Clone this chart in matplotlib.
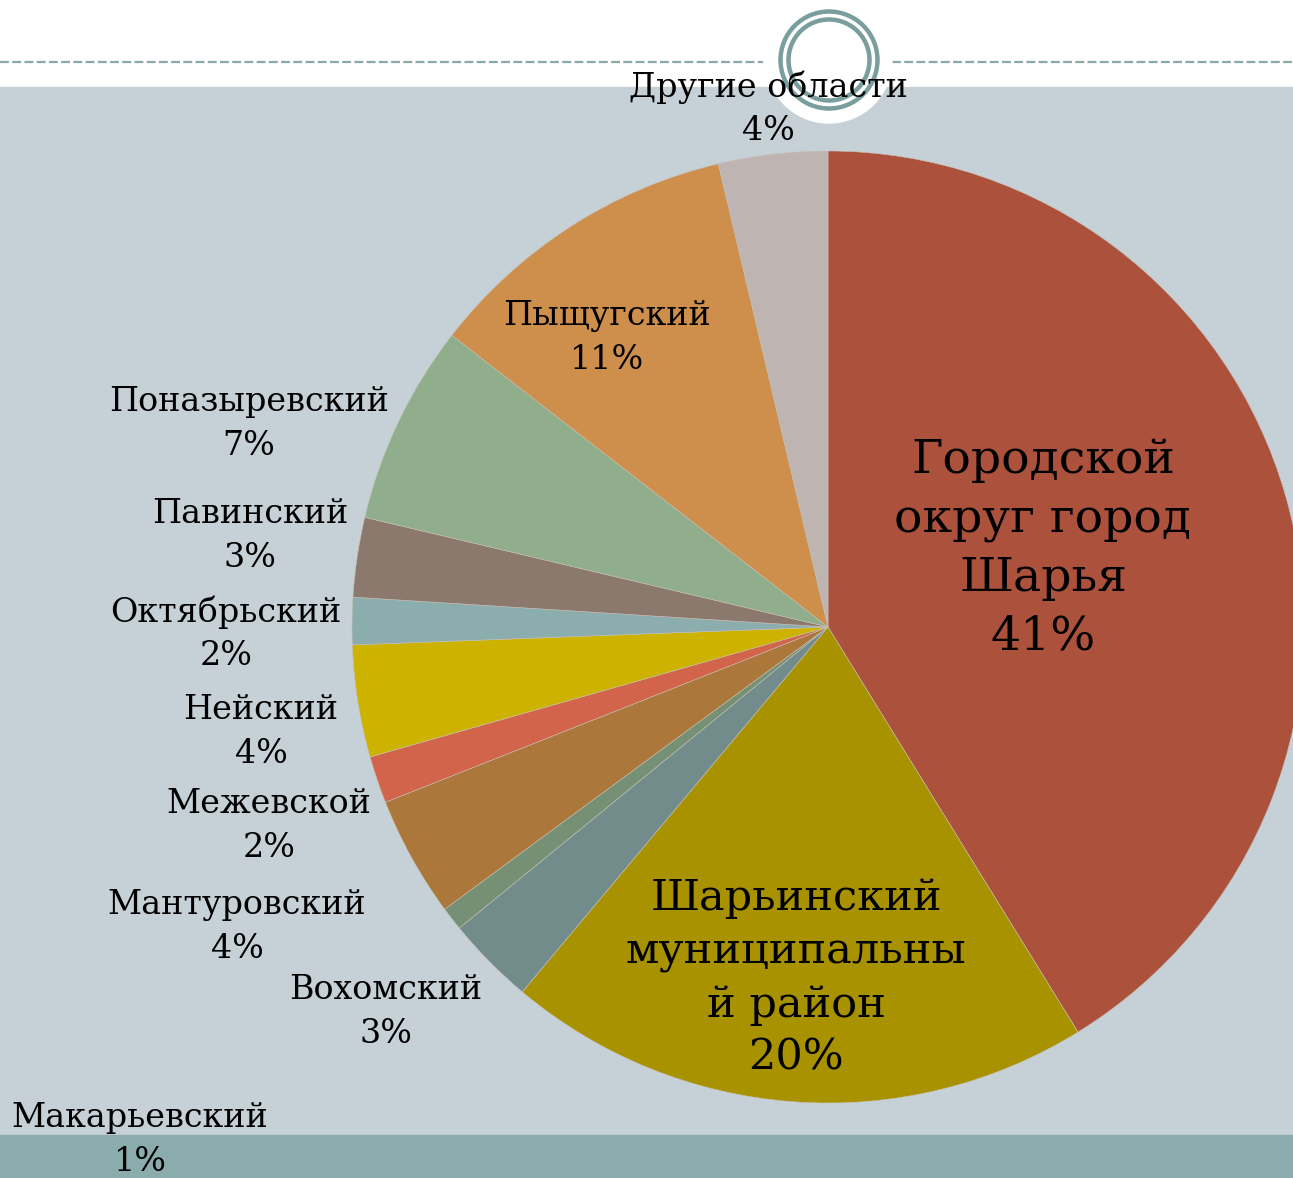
import matplotlib.pyplot as plt
from matplotlib.patches import Circle, Rectangle

# доли районов (%), по часовой стрелке от 12 часов
names = ["Городской\nокруг город\nШарья", "Шарьинский\nмуниципальны\nй район",
         "Вохомский", "Макарьевский", "Мантуровский", "Межевской", "Нейский",
         "Октябрьский", "Павинский", "Поназыревский", "Пыщугский", "Другие области"]
shares = [41.2, 19.9, 3.0, 0.8, 4.1, 1.6, 3.8, 1.6, 2.7, 6.8, 10.8, 3.7]
colors = ["#AB513C", "#A89200", "#728C8C", "#759074", "#AB773A", "#D1644A",
          "#CDB300", "#8BADAE", "#8B796E", "#90AE8B", "#CE8E4C", "#BEB4B1"]

# позиции подписей (пиксели, от верхнего левого угла)
label_xy = [(1043, 549), (796, 978), (386, 1012), (140, 1140), (237, 927),
            (269, 826), (261, 732), (226, 634), (250, 536), (249, 424),
            (607, 338), (768, 109)]
label_size = [34, 31] + [24] * 10
label_gap = [1.38, 1.33] + [1.45] * 10

W, H = 1293, 1178
fig = plt.figure(figsize=(W / 100, H / 100), dpi=100)
ax = fig.add_axes([0, 0, 1, 1])

# фон слайда
ax.add_patch(Rectangle((0, 0), W, H, color="white", zorder=0))
ax.add_patch(Rectangle((0, H - 1135), W, 1135 - 87, color="#C5D1D7", zorder=0.5))
ax.add_patch(Rectangle((0, 0), W, H - 1135, color="#8BACAC", zorder=0.6))
ax.plot([0, 763], [H - 62, H - 62], color="#8AA8A8", lw=1.6, dashes=(4, 1.5), zorder=1)
ax.plot([892, W], [H - 62, H - 62], color="#8AA8A8", lw=1.6, dashes=(4, 1.5), zorder=1)
ax.add_patch(Circle((829, H - 60), 63, color="white", zorder=1))
ax.add_patch(Circle((829, H - 60), 48.5, fill=False, ec="#7A9E9E", lw=3.2, zorder=1.1))
ax.add_patch(Circle((829, H - 60), 40.5, fill=False, ec="#7A9E9E", lw=3.2, zorder=1.1))

wedges, _ = ax.pie(shares, colors=colors, startangle=90, counterclock=False,
                   center=(828, H - 627), radius=476,
                   wedgeprops=dict(linewidth=0.4, edgecolor="#C8C0B4"))
for w in wedges:
    w.set_zorder(2)

for i, (name, v) in enumerate(zip(names, shares)):
    x, y = label_xy[i]
    ax.text(x, H - y, f"{name}\n{v:.0f}%", ha="center", va="center",
            fontsize=label_size[i], family="DejaVu Serif",
            linespacing=label_gap[i], zorder=3)

ax.set_xlim(0, W)
ax.set_ylim(0, H)
ax.set_aspect("equal")
ax.axis("off")

fig.savefig("out.png", dpi=100)
